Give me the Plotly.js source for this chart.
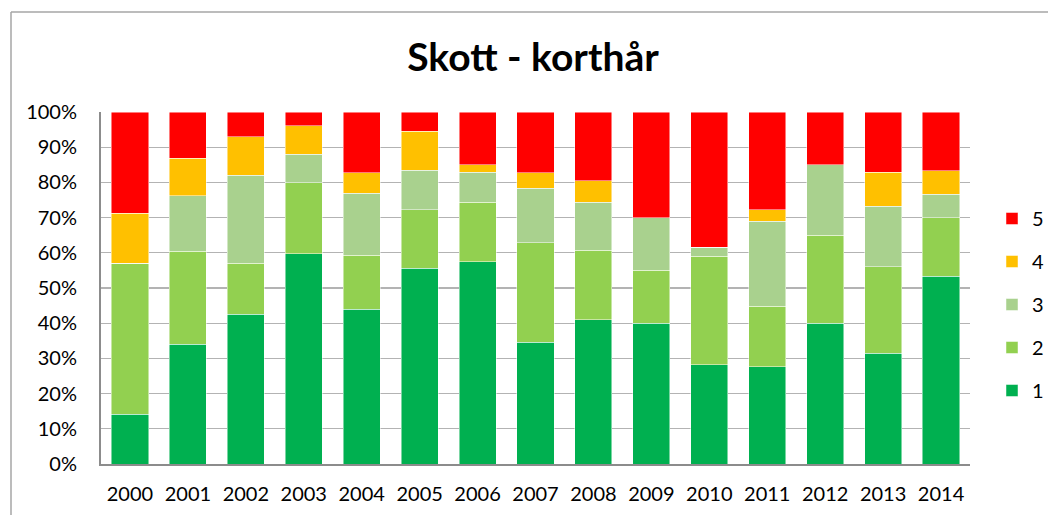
<!DOCTYPE html>
<html>
<head>
<meta charset="utf-8">
<script src="https://cdn.plot.ly/plotly-3.0.1.min.js"></script>
<style>html,body{margin:0;padding:0;background:#fff;}#chart{width:1048px;height:515px;}</style>
</head>
<body>
<div id="chart"></div>
<script>
const years = ["2000","2001","2002","2003","2004","2005","2006","2007","2008","2009","2010","2011","2012","2013","2014"];
const s1 = [14.1, 34.0, 42.6, 59.8, 44.0, 55.6, 57.4, 34.6, 41.0, 40.0, 28.2, 27.6, 40.0, 31.5, 53.3];
const s2 = [43.0, 26.5, 14.5, 20.1, 15.3, 16.7, 17.0, 28.3, 19.7, 15.0, 30.8, 17.2, 25.0, 24.5, 16.7];
const s3 = [0.0, 15.7, 25.0, 8.1, 17.6, 11.1, 8.5, 15.4, 13.7, 15.0, 2.6, 24.1, 20.0, 17.2, 6.6];
const s4 = [14.2, 10.6, 10.8, 8.1, 5.9, 11.1, 2.1, 4.4, 6.0, 0.0, 0.0, 3.4, 0.0, 9.7, 6.7];
const s5 = [28.7, 13.2, 7.1, 3.9, 17.2, 5.5, 15.0, 17.3, 19.6, 30.0, 38.4, 27.7, 15.0, 17.1, 16.7];
const seriesNames = ["1","2","3","4","5"];
const seriesColors = ["#00B050","#92D050","#A9D18E","#FFC000","#FF0000"];
const yTicks = [0,10,20,30,40,50,60,70,80,90,100];

const allSeries = [s1,s2,s3,s4,s5];
const FONT = "Lato, 'Open Sans', sans-serif";
const traces = allSeries.map((vals, i) => ({
  type: "bar",
  x: years,
  y: vals,
  name: seriesNames[i],
  legendgroup: "g" + i,
  legendrank: 1000 - i,
  marker: {color: seriesColors[i], line: {color: "rgba(255,255,255,0.6)", width: 0.8}},
  hoverinfo: "x+y+name"
}));

// plot area pixel geometry
const L = 101, R = 78, T = 112, B = 51, W = 1048, H = 515;
const pw = W - L - R, ph = H - T - B;
const px = v => (v - L) / pw;
const py = v => (H - B - v) / ph;

const layout = {
  width: W, height: H,
  margin: {l: L, r: R, t: T, b: B, autoexpand: false},
  paper_bgcolor: "#fff", plot_bgcolor: "#fff",
  barmode: "stack",
  bargap: 0.36,
  font: {family: FONT, size: 20, color: "#000"},
  title: {text: "<b>Skott - korthår</b>", font: {family: FONT, size: 39, color: "#000"},
          x: 533/1048, xref: "container", xanchor: "center",
          y: 1 - 57/515, yref: "container", yanchor: "middle"},
  xaxis: {type: "category", showgrid: false, showline: true, linecolor: "#8c8c8c", linewidth: 2,
          ticks: "", tickfont: {family: FONT, size: 20, color: "#000"}, ticklabelstandoff: 11,
          fixedrange: true},
  yaxis: {range: [0, 100], tickvals: yTicks, ticktext: yTicks.map(v => v + "%"),
          showgrid: true, gridcolor: "#b3b3b3", gridwidth: 1.2,
          showline: true, linecolor: "#8c8c8c", linewidth: 2, zeroline: false,
          ticks: "", tickfont: {family: FONT, size: 20, color: "#000"}, ticklabelstandoff: 18,
          fixedrange: true},
  legend: {traceorder: "grouped", tracegroupgap: 14,
           x: px(992), xanchor: "left", y: py(304.5), yanchor: "middle",
           font: {family: FONT, size: 20, color: "#000"}, bgcolor: "rgba(0,0,0,0)"},
  shapes: [
    {type: "line", xref: "paper", yref: "paper", x0: px(11), x1: px(11), y0: py(12), y1: py(520),
     line: {color: "#a6a6a6", width: 1.5}},
    {type: "line", xref: "paper", yref: "paper", x0: px(11), x1: px(1060), y0: py(12), y1: py(12),
     line: {color: "#a6a6a6", width: 1.5}}
  ]
};

Plotly.newPlot("chart", traces, layout, {displayModeBar: false, staticPlot: true});
</script>
</body>
</html>
